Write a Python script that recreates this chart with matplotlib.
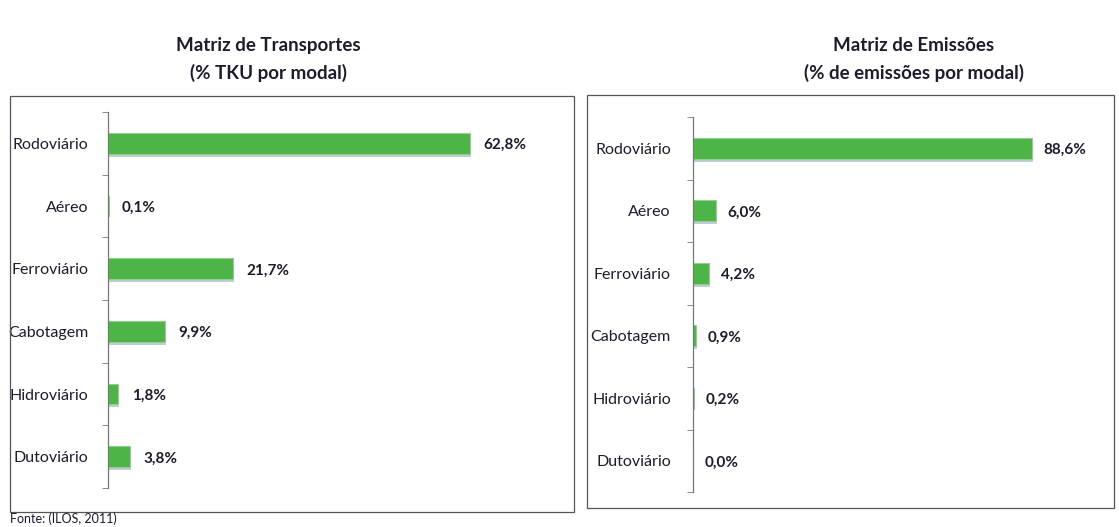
import numpy as np
import matplotlib
matplotlib.use("Agg")
import matplotlib.pyplot as plt
from matplotlib.patches import Rectangle

plt.rcParams["font.family"] = ["Lato", "DejaVu Sans"]

# Data
modais = ["Rodoviário", "Aéreo", "Ferroviário", "Cabotagem", "Hidroviário", "Dutoviário"]
tku = [62.8, 0.1, 21.7, 9.9, 1.8, 3.8]
emissoes = [88.6, 6.0, 4.2, 0.9, 0.2, 0.0]
titulos = [("Matriz de Transportes", "(% TKU por modal)"),
           ("Matriz de Emissões", "(% de emissões por modal)")]
fonte = "Fonte: (ILOS, 2011)"

txt_color = "#1c1c2c"
bar_color = "#4db548"

fig = plt.figure(figsize=(11.19, 5.27), dpi=100)
W, H = 1119, 527

def px_box(x0, y0, x1, y1):
    return [x0 / W, 1 - y1 / H, (x1 - x0) / W, (y1 - y0) / H]

# frames around each chart
for x0, y0, x1, y1 in [(10, 96, 574, 512), (587, 95, 1114, 508)]:
    b = px_box(x0, y0, x1, y1)
    fig.patches.append(Rectangle((b[0], b[1]), b[2], b[3], transform=fig.transFigure,
                                 fill=False, edgecolor="#555555", linewidth=0.9))

def draw(ax, vals, xmax, fs, pad):
    y = np.arange(len(modais))
    # soft shadow under bars
    ax.barh(y + 0.05, vals, height=0.33, left=0.15, color="#8fa3b5", alpha=0.55, zorder=1)
    ax.barh(y, vals, height=0.33, color=bar_color, edgecolor="#8fd08a", linewidth=0.8, zorder=2)
    for yi, v in zip(y, vals):
        ax.text(v + xmax * 0.022 + 0.8, yi + 0.03, f"{v:.1f}%".replace(".", ","), va="center",
                ha="left", fontsize=11, fontweight="bold", color=txt_color)
    ax.set_xlim(0, xmax)
    ax.set_ylim(len(modais) - 0.5, -0.5)
    ax.set_yticks(y)
    ax.set_yticklabels(modais, fontsize=fs, color=txt_color)
    ax.set_yticks(np.arange(len(modais) + 1) - 0.5, minor=True)
    ax.tick_params(axis="y", which="major", length=0, pad=pad)
    ax.tick_params(axis="y", which="minor", length=4, color="#777777", direction="out")
    ax.set_xticks([])
    for s in ["top", "right", "bottom"]:
        ax.spines[s].set_visible(False)
    ax.spines["left"].set_color("#777777")
    ax.spines["left"].set_linewidth(0.9)

ax1 = fig.add_axes(px_box(108, 112, 108 + 5.76 * 70, 488))
draw(ax1, tku, 70, 11.5, 14)
ax2 = fig.add_axes(px_box(693, 117, 693 + 3.83 * 100, 492))
draw(ax2, emissoes, 100, 11.5, 16)

for cx, (t1, t2) in zip([268, 914], titulos):
    fig.text(cx / W, 1 - 45 / H, t1, ha="center", va="center", fontsize=13.5,
             fontweight="bold", color=txt_color)
    fig.text(cx / W, 1 - 73 / H, t2, ha="center", va="center", fontsize=13.5,
             fontweight="bold", color=txt_color)

fig.text(10 / W, 1 - 519 / H, fonte, ha="left", va="center", fontsize=9, color=txt_color)

fig.savefig("out.png", dpi=100)
